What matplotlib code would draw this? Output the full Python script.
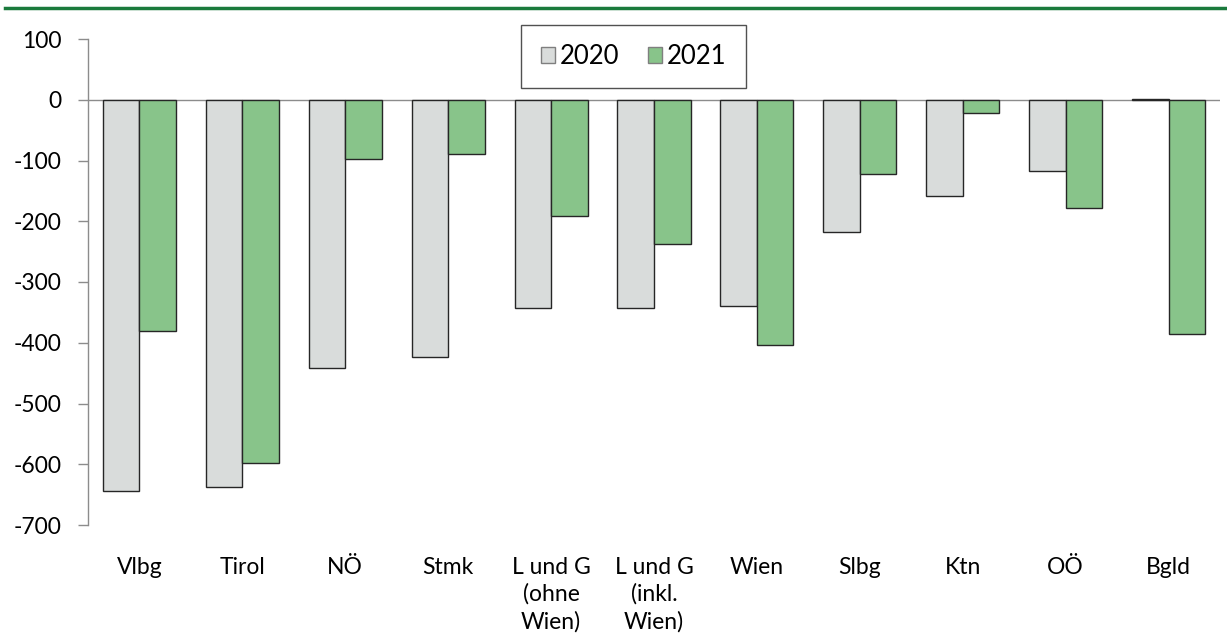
import matplotlib
matplotlib.use("Agg")
import matplotlib.pyplot as plt
import numpy as np
from matplotlib.lines import Line2D
from matplotlib.patches import Patch

categories = ["Vlbg", "Tirol", "NÖ", "Stmk", "L und G\n(ohne\nWien)", "L und G\n(inkl.\nWien)",
              "Wien", "Slbg", "Ktn", "OÖ", "Bgld"]
v2020 = [-644, -638, -442, -423, -342, -342, -339, -218, -159, -117, 2]
v2021 = [-381, -598, -98, -90, -192, -237, -404, -122, -21, -178, -386]
yticks = [100, 0, -100, -200, -300, -400, -500, -600, -700]

c2020 = "#d9dcdb"
c2021 = "#88c48a"
edge = "#262626"
font = "Lato"
fs = 16.5

fig = plt.figure(figsize=(12.27, 6.44), dpi=100)
ax = fig.add_axes([88/1227, 1 - 525/644, (1220-88)/1227, (525-39)/644])

x = np.arange(len(categories))
w = 0.355
ax.bar(x - w/2, v2020, w, color=c2020, edgecolor=edge, linewidth=1.0, zorder=3)
ax.bar(x + w/2, v2021, w, color=c2021, edgecolor=edge, linewidth=1.0, zorder=3)

ax.set_xlim(-0.5, len(categories) - 0.5)
ax.set_ylim(-700, 100)
ax.axhline(0, color="#8c8c8c", linewidth=1.0, zorder=2)

for s in ["top", "right", "bottom"]:
    ax.spines[s].set_visible(False)
ax.spines["left"].set_color("#8c8c8c")
ax.spines["left"].set_linewidth(1.0)

ax.set_yticks(yticks)
ax.set_yticklabels([str(t) for t in yticks], fontfamily=font, fontsize=fs)
ax.tick_params(axis="y", direction="out", length=7, width=1, color="#8c8c8c", pad=12)
ax.set_xticks(x)
ax.set_xticklabels(categories, fontfamily=font, fontsize=fs, linespacing=1.32)
ax.tick_params(axis="x", length=0, pad=23)

handles = [Patch(facecolor=c2020, edgecolor="#7f7f7f", linewidth=1.0),
           Patch(facecolor=c2021, edgecolor="#7f7f7f", linewidth=1.0)]
leg = ax.legend(handles, ["2020", "2021"], loc="upper center", bbox_to_anchor=(0.482, 1.029),
                ncol=2, frameon=True, fancybox=False, handlelength=0.55, handleheight=0.55,
                handletextpad=0.2, columnspacing=1.1, borderpad=0.75, borderaxespad=0,
                prop={"family": font, "size": 18.5})
leg.get_frame().set_edgecolor("#262626")
leg.get_frame().set_linewidth(1.0)

fig.add_artist(Line2D([5/1227, 1.0], [1 - 7.5/644, 1 - 7.5/644], color="#1a7a3c", linewidth=2.5,
                      transform=fig.transFigure))

fig.savefig("out.png", dpi=100)
